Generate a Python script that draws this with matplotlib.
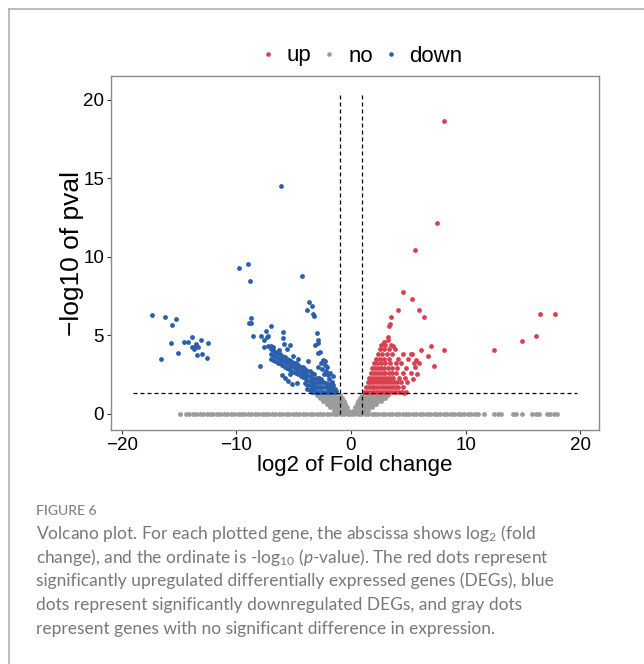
import matplotlib
matplotlib.use("Agg")
import matplotlib.pyplot as plt
from matplotlib.lines import Line2D

plt.rcParams["font.family"] = ["Liberation Sans", "DejaVu Sans"]
plt.rcParams["mathtext.fontset"] = "custom"
plt.rcParams["mathtext.rm"] = "Lato"
plt.rcParams["mathtext.it"] = "Lato:italic"

# ---- data ----
# non-significant genes sitting on the baseline (-log10 p ~ 0)
no_base_x = [-14.9, -14.4, -14.1, -13.8, -13.5, -13.2, -12.9, -12.6, -12.3, -12.0,
             -11.7, -11.4, -11.1, -10.8, -10.5, -10.2, -9.9, -9.6, -9.3, -9.0,
             -8.7, -8.4, -8.1, -7.8, -7.5, -7.2, -6.9, -6.6, -6.3, -6.0,
             -5.7, -5.4, -5.1, -4.8, -4.5, -4.2, -3.9, -3.6, -3.3, -3.0,
             -2.7, -2.4, -2.1, -1.8, -1.5, -1.2, -0.9, -0.6, -0.3, 0.0,
             0.3, 0.6, 0.9, 1.2, 1.5, 1.8, 2.1, 2.4, 2.7, 3.0,
             3.3, 3.6, 3.9, 4.2, 4.5, 4.8, 5.1, 5.4, 5.7, 6.0,
             6.3, 6.6, 6.9, 7.2, 7.5, 7.8, 8.1, 8.4, 8.7, 9.0,
             9.3, 9.6, 9.9, 10.2, 10.5, 10.8, 11.1, 11.6, 12.5, 12.8,
             13.1, 14.1, 14.4, 14.9, 15.8, 16.1, 16.4, 17.1, 17.4, 17.7, 18.0]

# non-significant genes in the cone below the p threshold
no_cone_y = [1.2, 1.0, 0.8, 0.6, 0.4, 0.2]
no_cone_x = [
    [-3.0, -2.75, -2.5, -2.25, -2.0, -1.75, -1.5, -1.25, -1.0,
     1.0, 1.25, 1.5, 1.75, 2.0, 2.25, 2.5, 2.75, 3.0, 3.25],
    [-2.7, -2.45, -2.2, -1.95, -1.7, -1.45, -1.2, -0.95, -0.8,
     0.8, 1.0, 1.25, 1.5, 1.75, 2.0, 2.25, 2.5, 2.75, 3.0],
    [-2.4, -2.15, -1.9, -1.65, -1.4, -1.15, -0.9, -0.65,
     0.65, 0.9, 1.15, 1.4, 1.65, 1.9, 2.15, 2.4, 2.6],
    [-2.1, -1.85, -1.6, -1.35, -1.1, -0.85, -0.5,
     0.5, 0.75, 1.0, 1.25, 1.5, 1.75, 2.0, 2.2],
    [-1.8, -1.55, -1.3, -1.05, -0.8, -0.55, -0.35,
     0.35, 0.6, 0.85, 1.1, 1.35, 1.6, 1.85],
    [-1.5, -1.25, -1.0, -0.75, -0.5, -0.2,
     0.2, 0.45, 0.7, 0.95, 1.2, 1.5],
]

down_pts = [
    # far-left group
    (-17.4, 6.28), (-16.6, 3.48), (-16.2, 6.14), (-15.6, 5.65), (-15.3, 6.01),
    (-15.7, 4.5), (-15.1, 3.87), (-14.6, 4.57), (-14.2, 4.59), (-13.9, 4.88),
    (-13.85, 4.27), (-13.7, 4.14), (-13.5, 4.44), (-13.5, 4.29), (-13.35, 4.22),
    (-13.06, 4.69), (-13.4, 3.71), (-13.0, 3.8), (-12.54, 3.57), (-12.48, 4.5),
    # isolated high points
    (-9.75, 9.26), (-9.0, 9.57), (-8.84, 8.47), (-6.08, 14.52), (-4.3, 8.79),
    (-8.73, 6.1), (-8.93, 5.77), (-8.75, 5.8), (-8.58, 4.97), (-7.94, 3.02),
    (-3.66, 7.09), (-3.43, 6.88), (-3.81, 6.58), (-3.27, 6.25), (-3.3, 6.35),
    # scatter above the main band
    (-7.88, 4.95), (-7.56, 4.71), (-7.36, 4.86), (-7.2, 4.95), (-7.0, 5.6),
    (-7.4, 5.26), (-7.62, 4.22), (-6.98, 4.34), (-7.2, 4.3), (-6.8, 4.25),
    (-5.96, 5.18), (-5.9, 4.85), (-5.85, 4.45), (-5.32, 4.4), (-5.6, 4.1),
    (-6.3, 4.05), (-3.78, 3.38), (-5.1, 3.7), (-4.6, 3.5),
    (-6.0, 2.44), (-5.8, 2.3), (-5.5, 2.1), (-5.15, 1.9), (-4.7, 1.95), (-5.3, 2.55),
    # right branch
    (-3.0, 5.14), (-2.9, 4.7), (-2.85, 4.5), (-3.1, 4.35), (-2.9, 3.9), (-2.7, 3.95),
    (-2.4, 3.4), (-2.25, 3.35), (-2.3, 3.1), (-2.6, 3.2), (-2.9, 3.0), (-2.5, 2.85),
    (-2.2, 2.7), (-2.0, 2.45), (-2.35, 2.55), (-1.9, 2.2), (-1.7, 2.05), (-1.55, 1.8),
    (-1.4, 1.6), (-1.3, 1.45), (-1.6, 2.4), (-1.8, 2.6), (-2.1, 2.95),
    # main diagonal band
    (-7.0, 3.5), (-7.0, 3.8), (-7.0, 4.1), (-6.8, 3.45), (-6.8, 3.75), (-6.8, 4.05),
    (-6.6, 3.35), (-6.6, 3.65), (-6.6, 3.95), (-6.4, 3.25), (-6.4, 3.55), (-6.4, 3.85),
    (-6.2, 3.2), (-6.2, 3.5), (-6.2, 3.8), (-6.0, 3.1), (-6.0, 3.4), (-6.0, 3.7),
    (-5.8, 3.0), (-5.8, 3.3), (-5.8, 3.6), (-5.6, 2.9), (-5.6, 3.2), (-5.6, 3.5),
    (-5.4, 2.85), (-5.4, 3.15), (-5.4, 3.45), (-5.2, 2.75), (-5.2, 3.05), (-5.2, 3.35),
    (-5.0, 2.65), (-5.0, 2.95), (-5.0, 3.25), (-4.8, 2.6), (-4.8, 2.9), (-4.8, 3.2),
    (-4.6, 2.5), (-4.6, 2.8), (-4.6, 3.1), (-4.4, 2.4), (-4.4, 2.7), (-4.4, 3.0),
    (-4.2, 2.35), (-4.2, 2.65), (-4.2, 2.95), (-4.0, 1.95), (-4.0, 2.25), (-4.0, 2.55),
    (-4.0, 2.85), (-3.8, 1.55), (-3.8, 1.85), (-3.8, 2.15), (-3.8, 2.45), (-3.8, 2.75),
    (-3.6, 1.5), (-3.6, 1.8), (-3.6, 2.1), (-3.6, 2.4), (-3.6, 2.7),
    (-3.4, 1.4), (-3.4, 1.7), (-3.4, 2.0), (-3.4, 2.3), (-3.4, 2.6),
    (-3.2, 1.4), (-3.2, 1.6), (-3.2, 1.9), (-3.2, 2.2), (-3.2, 2.5),
    (-3.0, 1.4), (-3.0, 1.7), (-3.0, 2.0), (-3.0, 2.3), (-2.8, 1.4), (-2.8, 1.7),
    (-2.8, 2.0), (-2.8, 2.3), (-2.6, 1.4), (-2.6, 1.7), (-2.6, 2.0), (-2.6, 2.2),
    (-2.4, 1.4), (-2.4, 1.7), (-2.4, 2.0), (-2.2, 1.4), (-2.2, 1.7), (-2.2, 1.95),
    (-2.0, 1.4), (-2.0, 1.65), (-2.0, 1.9), (-1.8, 1.4), (-1.8, 1.65), (-1.8, 1.85),
    (-1.6, 1.4), (-1.6, 1.6), (-1.4, 1.4),
]

up_pts = [
    # dense cluster
    (1.15, 1.4), (1.4, 1.4), (1.65, 1.4), (1.9, 1.4), (2.15, 1.4), (2.4, 1.4), (2.65, 1.4),
    (2.9, 1.4), (3.15, 1.4), (3.4, 1.4), (3.65, 1.4), (3.9, 1.4), (4.15, 1.4), (4.45, 1.4),
    (4.8, 1.4),
    (1.3, 1.7), (1.55, 1.7), (1.8, 1.7), (2.05, 1.7), (2.3, 1.7), (2.55, 1.7), (2.8, 1.7),
    (3.05, 1.7), (3.3, 1.7), (3.55, 1.7), (3.8, 1.7), (4.1, 1.7), (4.5, 1.7),
    (1.45, 2.0), (1.7, 2.0), (1.95, 2.0), (2.2, 2.0), (2.45, 2.0), (2.7, 2.0), (2.95, 2.0),
    (3.2, 2.0), (3.45, 2.0), (3.75, 2.0), (4.0, 2.0), (4.4, 2.0), (4.9, 2.0),
    (1.6, 2.3), (1.85, 2.3), (2.1, 2.3), (2.35, 2.3), (2.6, 2.3), (2.85, 2.3), (3.1, 2.3),
    (3.4, 2.3), (3.7, 2.3), (4.2, 2.3), (4.7, 2.3),
    (1.75, 2.6), (2.0, 2.6), (2.25, 2.6), (2.5, 2.6), (2.75, 2.6), (3.0, 2.6), (3.3, 2.6),
    (3.6, 2.6), (3.9, 2.6), (4.5, 2.6), (5.2, 2.6),
    (1.85, 2.9), (2.1, 2.9), (2.35, 2.9), (2.6, 2.9), (2.9, 2.9), (3.2, 2.9), (3.55, 2.9),
    (4.0, 2.9), (4.8, 2.9),
    (2.05, 3.2), (2.3, 3.2), (2.6, 3.2), (2.95, 3.2), (3.4, 3.2), (3.9, 3.2), (4.4, 3.2),
    (5.5, 3.2),
    (2.2, 3.5), (2.5, 3.5), (2.85, 3.5), (3.3, 3.5), (4.1, 3.5), (5.0, 3.5),
    (2.35, 3.8), (2.7, 3.8), (3.1, 3.8), (3.6, 3.8), (4.5, 3.8), (5.3, 3.8),
    (2.5, 4.1), (2.85, 4.1), (3.3, 4.1), (3.85, 4.1), (2.65, 4.4), (3.0, 4.4), (3.5, 4.4),
    # scattered / outliers
    (3.26, 4.89), (3.36, 5.6), (3.4, 5.75), (3.52, 6.16), (4.1, 6.62), (4.51, 7.77),
    (5.32, 7.3), (5.56, 10.45), (5.93, 6.6), (6.4, 6.18), (7.53, 12.15), (8.09, 18.66),
    (6.98, 4.29), (8.15, 4.04), (6.08, 4.04), (6.69, 3.65), (7.2, 3.06), (5.9, 3.2),
    (5.6, 3.0), (5.27, 3.78), (3.2, 4.7), (2.9, 4.6), (3.7, 4.29), (5.7, 3.4),
    (5.4, 2.2), (5.8, 2.5), (4.6, 1.35), (12.48, 4.08), (14.95, 4.61), (16.1, 4.95),
    (16.47, 6.33), (17.83, 6.33),
]

fc_cut = 1.0
p_cut = 1.301  # -log10(0.05)

col_up = "#d8404f"
col_no = "#9b9b9b"
col_down = "#2a5fab"

# ---- figure ----
fig = plt.figure(figsize=(6.44, 6.64), dpi=100)
ax = fig.add_axes([111 / 644, 1 - 430 / 664, 488 / 644, 354 / 664])

no_x = list(no_base_x)
no_y = [0.0] * len(no_base_x)
for yy, row in zip(no_cone_y, no_cone_x):
    no_x += row
    no_y += [yy] * len(row)

ms = 12
ax.scatter(no_x, no_y, s=ms, color=col_no, linewidths=0, zorder=2)
dx, dy = zip(*down_pts)
ax.scatter(dx, dy, s=ms, color=col_down, linewidths=0, zorder=3)
ux, uy = zip(*up_pts)
ax.scatter(ux, uy, s=ms, color=col_up, linewidths=0, zorder=3)

dash = (0, (3.2, 2.4))
ax.plot([-19.0, 19.7], [p_cut, p_cut], color="black", lw=0.9, ls=dash, zorder=4)
for v in (-fc_cut, fc_cut):
    ax.plot([v, v], [0, 20.5], color="black", lw=0.9, ls=dash, zorder=4)

ax.set_xlim(-20.94, 21.64)
ax.set_ylim(-1.04, 21.53)
ax.set_xticks([-20, -10, 0, 10, 20])
ax.set_xticklabels(["\u221220", "\u221210", "0", "10", "20"])
ax.set_yticks([0, 5, 10, 15, 20])
ax.tick_params(labelsize=13.5, colors="#333333", labelcolor="black", length=3, width=0.8, pad=2)
for s in ax.spines.values():
    s.set_color("#8a8a8a")
    s.set_linewidth(1.0)

ax.set_xlabel("log2 of Fold change", fontsize=16)
ax.xaxis.set_label_coords(0.5, -0.07)
ax.set_ylabel("\u2212log10 of pval", fontsize=19)
ax.yaxis.set_label_coords(-0.055, 0.5)

handles = [Line2D([], [], ls="", marker="o", ms=2.3, color=c) for c in (col_up, col_no, col_down)]
fig.legend(handles, ["up", "no", "down"], loc="center", bbox_to_anchor=(362 / 644, 1 - 56 / 664),
           ncol=3, frameon=False, fontsize=16, handlelength=0.6, handletextpad=0.55,
           columnspacing=0.5)

# frame around the figure panel
fig.add_artist(Line2D([9 / 644, 9 / 644], [0, 1 - 9 / 664], color="#b0b0b0", lw=1.2))
fig.add_artist(Line2D([9 / 644, 1], [1 - 9 / 664, 1 - 9 / 664], color="#b0b0b0", lw=1.2))

# caption
cap_col = "#787878"
cap_font = ["Lato", "DejaVu Sans"]
fig.text(36 / 644, 1 - 511 / 664, "FIGURE 6", fontsize=10, color="#808080",
         family=cap_font, va="center", fontweight="medium")
cap_lines = [
    "Volcano plot. For each plotted gene, the abscissa shows log$_2$ (fold",
    "change), and the ordinate is -log$_{10}$ ($p$-value). The red dots represent",
    "significantly upregulated differentially expressed genes (DEGs), blue",
    "dots represent significantly downregulated DEGs, and gray dots",
    "represent genes with no significant difference in expression.",
]
cap_y = [534, 558, 581, 605, 629]
for t, yy in zip(cap_lines, cap_y):
    fig.text(36 / 644, 1 - yy / 664, t, fontsize=12.5, color=cap_col, family=cap_font,
             va="center")

fig.savefig("out.png", dpi=100)
